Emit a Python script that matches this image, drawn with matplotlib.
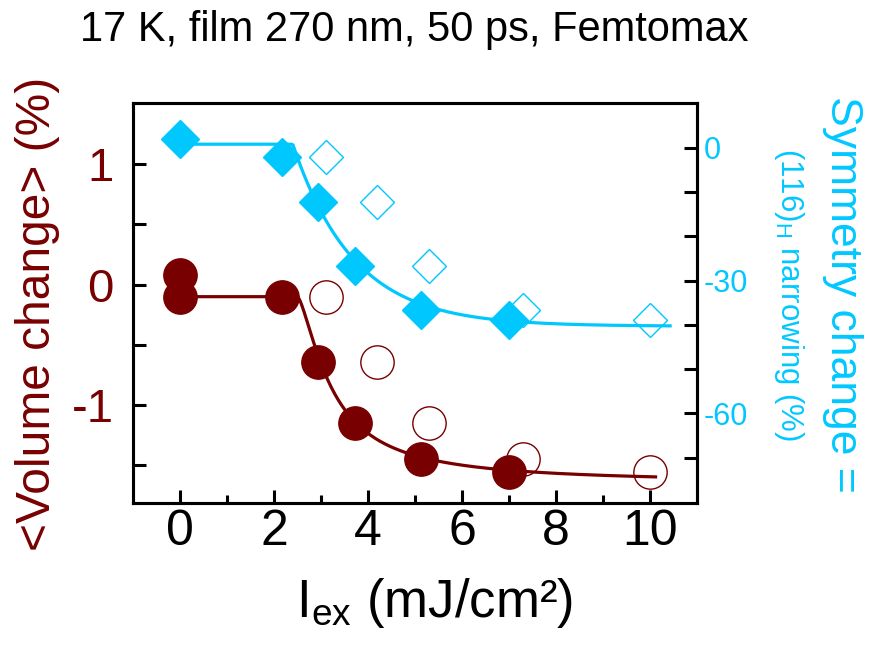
import numpy as np
import matplotlib
matplotlib.use('Agg')
import matplotlib.pyplot as plt

plt.rcParams['font.family'] = ['Liberation Sans', 'DejaVu Sans']
plt.rcParams['mathtext.fontset'] = 'custom'
plt.rcParams['mathtext.rm'] = 'Liberation Sans'
plt.rcParams['mathtext.default'] = 'regular'
plt.rcParams['axes.unicode_minus'] = False

RED = '#780000'
CYAN = '#00c8ff'

# ---- data ----
fluence_filled = [0.0, 0.0, 2.18, 2.94, 3.72, 5.12, 7.0]
volume_filled = [0.08, -0.10, -0.10, -0.64, -1.15, -1.45, -1.56]
fluence_open = [3.10, 4.20, 5.30, 7.30, 10.0]
volume_open = [-0.10, -0.64, -1.15, -1.45, -1.56]

sym_fluence_filled = [0.0, 2.18, 2.94, 3.72, 5.12, 7.0]
symmetry_filled = [2.0, -2.0, -12.3, -26.6, -36.6, -39.0]
sym_fluence_open = [3.10, 4.20, 5.30, 7.30, 10.0]
symmetry_open = [-2.2, -12.3, -26.6, -36.6, -38.9]

x_ticks = [0, 2, 4, 6, 8, 10]
left_ticks = [-1, 0, 1]
right_ticks = [-60, -30, 0]

# fit-curve parameters (threshold models)
vol_fit = dict(y0=-0.10, yinf=-1.65, x0=2.5, w=0.748, p=1.45, xmax=10.12)
sym_fit = dict(y0=0.8, yinf=-40.3, x0=2.4, tau=1.3, xmax=10.43)


def vol_model(x, y0, yinf, x0, w, p, xmax):
    d = np.clip(x - x0, 0, None)
    return yinf + (y0 - yinf) / (1 + (d / w) ** p)


def sym_model(x, y0, yinf, x0, tau, xmax):
    d = np.clip(x - x0, 0, None)
    return yinf + (y0 - yinf) * np.exp(-d / tau)


fig = plt.figure(figsize=(8.69, 6.45), dpi=100)
ax = fig.add_axes([0.153, 0.2202, 0.649, 0.6201])
ax2 = ax.twinx()

ax.set_xlim(-1, 11)
ax.set_ylim(-1.815, 1.51)
ax2.set_ylim(-80.2, 10.1)

# fit lines
xv = np.linspace(0, vol_fit['xmax'], 400)
ax.plot(xv, vol_model(xv, **vol_fit), color=RED, lw=2.3, zorder=2)
xs = np.linspace(0, sym_fit['xmax'], 400)
ax2.plot(xs, sym_model(xs, **sym_fit), color=CYAN, lw=2.3, zorder=2)

# open markers
ax.plot(fluence_open, volume_open, 'o', ms=24, mfc='none', mec=RED, mew=1.0, zorder=3)
ax2.plot(sym_fluence_open, symmetry_open, 'D', ms=17.5, mfc='none', mec=CYAN, mew=1.0, zorder=3)
# filled markers
ax.plot(fluence_filled, volume_filled, 'o', ms=24, mfc=RED, mec=RED, zorder=4)
ax2.plot(sym_fluence_filled, symmetry_filled, 'D', ms=19.5, mfc=CYAN, mec=CYAN, zorder=4)

# ticks
ax.set_xticks(x_ticks)
ax.set_xticks([1, 3, 5, 7, 9], minor=True)
ax.set_yticks(left_ticks)
ax.set_yticks([-1.5, -0.5, 0.5], minor=True)
ax.tick_params(axis='x', which='major', direction='in', length=9.5, width=2.2,
               labelsize=36, pad=4, top=False)
ax.tick_params(axis='x', which='minor', direction='in', length=5.5, width=2.2, top=False)
ax.tick_params(axis='y', which='both', direction='in', length=9.5, width=2.2,
               labelsize=34, labelcolor=RED, pad=14, right=False)

ax2.set_yticks(right_ticks)
ax2.set_yticks([-70, -50, -40, -20, -10], minor=True)
ax2.tick_params(axis='y', which='both', direction='in', length=9.5, width=2.2,
                labelsize=22, labelcolor=CYAN, pad=5, left=False)

for a in (ax, ax2):
    for s in a.spines.values():
        s.set_linewidth(2.2)

# texts
fig.text(414 / 869, 1 - 30 / 645, '17 K, film 270 nm, 50 ps, Femtomax',
         fontsize=30, ha='center', va='center')
fig.text(434 / 869, 1 - 603 / 645, r'I$_{ex}$ (mJ/cm²)', fontsize=38,
         ha='center', va='center')
fig.text(38 / 869, 1 - 314 / 645, '<Volume change> (%)', fontsize=34.5,
         color=RED, rotation=90, ha='center', va='center')
fig.text(843 / 869, 1 - 294 / 645, 'Symmetry change =', fontsize=32,
         color=CYAN, rotation=-90, ha='center', va='center')
fig.text(789 / 869, 1 - 295 / 645, r'(116)$_{H}$ narrowing (%)', fontsize=22.5,
         color=CYAN, rotation=-90, ha='center', va='center')

fig.savefig('out.png', dpi=100)
